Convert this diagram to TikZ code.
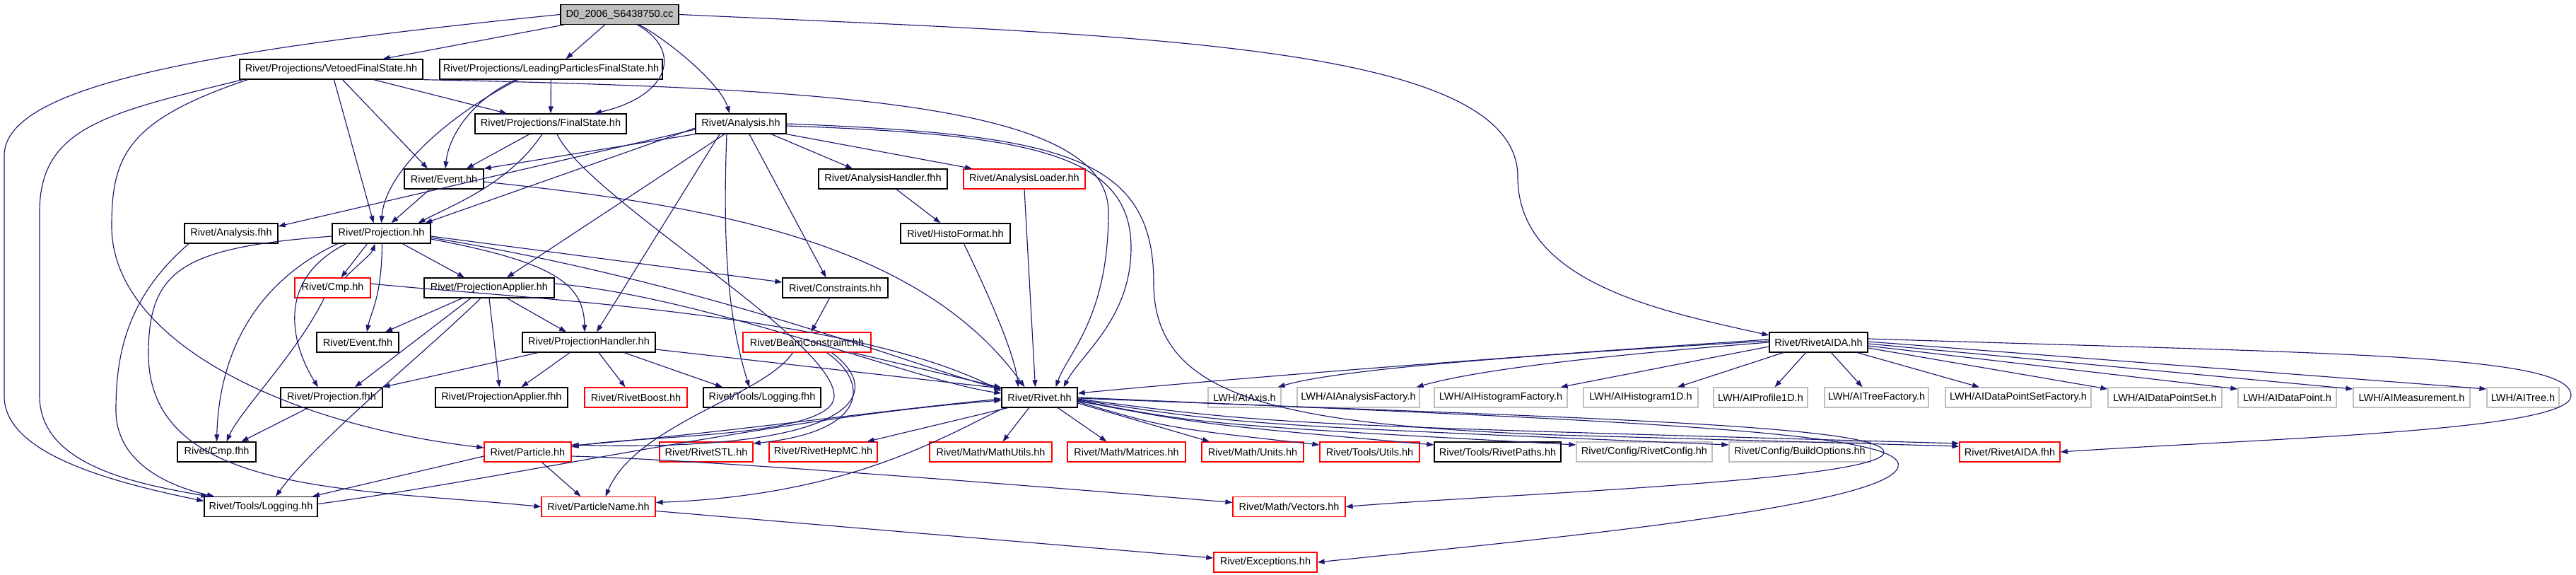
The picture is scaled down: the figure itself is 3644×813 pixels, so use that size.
\documentclass[tikz,border=0pt]{standalone}
\usepackage{fontspec}
\setmainfont{Liberation Sans}
\usepackage{tikz}
\usetikzlibrary{arrows.meta}
\definecolor{edgeblue}{HTML}{191970}
\definecolor{boxred}{HTML}{FF0000}
\definecolor{boxgray}{HTML}{BFBFBF}
\newcommand{\hdrfont}{\fontsize{14.5pt}{16pt}\selectfont}
\tikzstyle{hdr}=[draw=black,line width=1.3pt,minimum height=28pt,inner sep=0pt,font=\hdrfont]
\tikzstyle{hdrred}=[hdr,draw=boxred]
\tikzstyle{hdrgray}=[hdr,draw=boxgray]
\tikzstyle{hdrroot}=[hdr,fill=boxgray]
\tikzstyle{dep}=[draw=edgeblue,line width=1.15pt,-{Triangle[length=10pt,width=7pt]}]

\begin{document}
\begin{tikzpicture}[x=1pt,y=-1pt]
\useasboundingbox (0,0) rectangle (3644,813);
\node[hdrroot, minimum width=167pt] (root) at (876.5,20.5) {D0\_2006\_S6438750.cc};
\node[hdr, minimum width=259pt] (vfs) at (468.5,98) {Rivet/Projections/VetoedFinalState.hh};
\node[hdr, minimum width=315pt] (lpfs) at (779.5,98) {Rivet/Projections/LeadingParticlesFinalState.hh};
\node[hdr, minimum width=214pt] (finalstate) at (779,175) {Rivet/Projections/FinalState.hh};
\node[hdr, minimum width=128pt] (analysis) at (1048,175) {Rivet/Analysis.hh};
\node[hdr, minimum width=112pt] (event) at (628,253) {Rivet/Event.hh};
\node[hdr, minimum width=182pt] (anahandlerfhh) at (1249,253) {Rivet/AnalysisHandler.fhh};
\node[hdrred, minimum width=172pt] (analoader) at (1449,253) {Rivet/AnalysisLoader.hh};
\node[hdr, minimum width=132pt] (analysisfhh) at (327,330) {Rivet/Analysis.fhh};
\node[hdr, minimum width=139pt] (projection) at (539.5,330) {Rivet/Projection.hh};
\node[hdr, minimum width=155pt] (histoformat) at (1351.5,330) {Rivet/HistoFormat.hh};
\node[hdrred, minimum width=107pt] (cmp) at (470.5,407) {Rivet/Cmp.hh};
\node[hdr, minimum width=184pt] (projapplier) at (692,407) {Rivet/ProjectionApplier.hh};
\node[hdr, minimum width=149pt] (constraints) at (1181.5,407) {Rivet/Constraints.hh};
\node[hdr, minimum width=116pt] (eventfhh) at (506,484) {Rivet/Event.fhh};
\node[hdr, minimum width=188pt] (projhandler) at (833,484) {Rivet/ProjectionHandler.hh};
\node[hdrred, minimum width=181pt] (beamconstraint) at (1141.5,484) {Rivet/BeamConstraint.hh};
\node[hdr, minimum width=139pt] (rivetaida) at (2572.5,484) {Rivet/RivetAIDA.hh};
\node[hdr, minimum width=144pt] (projectionfhh) at (469,562) {Rivet/Projection.fhh};
\node[hdr, minimum width=187pt] (projapplierfhh) at (709.5,562) {Rivet/ProjectionApplier.fhh};
\node[hdrred, minimum width=145pt] (rivetboost) at (899.5,562) {Rivet/RivetBoost.hh};
\node[hdr, minimum width=166pt] (loggingfhh) at (1078,562) {Rivet/Tools/Logging.fhh};
\node[hdr, minimum width=107pt] (rivet) at (1470.5,562) {Rivet/Rivet.hh};
\node[hdrgray, minimum width=103pt] (aiaxis) at (1760.5,562) {LWH/AIAxis.h};
\node[hdrgray, minimum width=173pt] (aianalysisfactory) at (1921.5,562) {LWH/AIAnalysisFactory.h};
\node[hdrgray, minimum width=188pt] (aihistogramfactory) at (2123,562) {LWH/AIHistogramFactory.h};
\node[hdrgray, minimum width=162pt] (aihistogram1d) at (2321,562) {LWH/AIHistogram1D.h};
\node[hdrgray, minimum width=133pt] (aiprofile1d) at (2490.5,562) {LWH/AIProfile1D.h};
\node[hdrgray, minimum width=147pt] (aitreefactory) at (2654.5,562) {LWH/AITreeFactory.h};
\node[hdrgray, minimum width=206pt] (aidatapointsetfactory) at (2855,562) {LWH/AIDataPointSetFactory.h};
\node[hdrgray, minimum width=161pt] (aidatapointset) at (3062.5,562) {LWH/AIDataPointSet.h};
\node[hdrgray, minimum width=139pt] (aidatapoint) at (3235.5,562) {LWH/AIDataPoint.h};
\node[hdrgray, minimum width=165pt] (aimeasurement) at (3411.5,562) {LWH/AIMeasurement.h};
\node[hdrgray, minimum width=102pt] (aitree) at (3569,562) {LWH/AITree.h};
\node[hdr, minimum width=111pt] (cmpfhh) at (306.5,639) {Rivet/Cmp.fhh};
\node[hdrred, minimum width=123pt] (particle) at (746.5,639) {Rivet/Particle.hh};
\node[hdrred, minimum width=132pt] (rivetstl) at (999,639) {Rivet/RivetSTL.hh};
\node[hdrred, minimum width=153pt] (rivethepmc) at (1164.5,639) {Rivet/RivetHepMC.hh};
\node[hdrred, minimum width=173pt] (mathutils) at (1401.5,639) {Rivet/Math/MathUtils.hh};
\node[hdrred, minimum width=167pt] (matrices) at (1593.5,639) {Rivet/Math/Matrices.hh};
\node[hdrred, minimum width=144pt] (units) at (1772,639) {Rivet/Math/Units.hh};
\node[hdrred, minimum width=141pt] (utils) at (1937.5,639) {Rivet/Tools/Utils.hh};
\node[hdr, minimum width=179pt] (rivetpaths) at (2118.5,639) {Rivet/Tools/RivetPaths.hh};
\node[hdrgray, minimum width=192pt] (rivetconfig) at (2326,639) {Rivet/Config/RivetConfig.hh};
\node[hdrgray, minimum width=200pt] (buildoptions) at (2546,639) {Rivet/Config/BuildOptions.hh};
\node[hdrred, minimum width=142pt] (rivetaidafhh) at (2843,639) {Rivet/RivetAIDA.fhh};
\node[hdr, minimum width=160pt] (logging) at (369,716.5) {Rivet/Tools/Logging.hh};
\node[hdrred, minimum width=161pt] (particlename) at (846.5,716.5) {Rivet/ParticleName.hh};
\node[hdrred, minimum width=159pt] (vectors) at (1823.5,716.5) {Rivet/Math/Vectors.hh};
\node[hdrred, minimum width=146pt] (exceptions) at (1790,795) {Rivet/Exceptions.hh};
\draw[dep] ([xshift=5pt]root.south west) -- ([xshift=73pt]vfs.north);
\draw[dep] ([xshift=-21pt]root.south) -- ([xshift=21pt]lpfs.north);
\draw[dep] ([xshift=25pt]root.south) .. controls (965,70) and (950,135) .. ([xshift=62pt]finalstate.north);
\draw[dep] ([xshift=28pt]root.south) .. controls (950,60) and (1020,120) .. ([xshift=-16pt]analysis.north);
\draw[dep] (root.west) .. controls (300,70) and (6,120) .. (6,220) -- (6,560) .. controls (6,640) and (150,680) .. ([yshift=8pt]logging.west);
\draw[dep] (root.east) .. controls (1600,50) and (2147,60) .. (2147,250) .. controls (2147,400) and (2350,440) .. ([yshift=10pt]rivetaida.west);
\draw[dep] ([xshift=60pt]vfs.south) -- ([xshift=-62pt]finalstate.north);
\draw[dep] ([xshift=16pt]vfs.south) -- ([xshift=-23pt]event.north);
\draw[dep] ([xshift=4pt]vfs.south) -- ([xshift=-11pt]projection.north);
\draw[dep] ([xshift=5pt]vfs.south west) .. controls (150,160) and (56,180) .. (56,300) -- (56,560) .. controls (56,660) and (200,685) .. ([xshift=6pt]logging.north west);
\draw[dep] ([xshift=12pt]vfs.south west) .. controls (180,170) and (158,220) .. (158,320) .. controls (158,480) and (400,600) .. ([yshift=6pt]particle.west);
\draw[dep] (vfs.south east) .. controls (1200,125) and (1568,150) .. (1568,300) .. controls (1568,450) and (1510,500) .. ([xshift=23pt]rivet.north);
\draw[dep] (lpfs) -- (finalstate);
\draw[dep] ([xshift=-50pt]lpfs.south) .. controls (670,140) and (635,190) .. ([xshift=2pt]event.north);
\draw[dep] ([xshift=-47pt]lpfs.south) .. controls (640,160) and (545,240) .. (projection.north);
\draw[dep] ([xshift=-30pt]finalstate.south) -- ([xshift=32pt]event.north);
\draw[dep] ([xshift=-12pt]finalstate.south) .. controls (720,260) and (640,290) .. ([xshift=52pt]projection.north);
\draw[dep] ([xshift=9pt]finalstate.south) .. controls (830,280) and (1180,480) .. (1180,560) .. controls (1180,620) and (900,615) .. ([yshift=7pt]particle.east);
\draw[dep] ([xshift=-20pt]event.south) -- ([xshift=14pt]projection.north);
\draw[dep] ([yshift=-4pt]event.east) .. controls (1000,290) and (1300,340) .. ([xshift=-21pt]rivet.north);
\draw[dep] ([yshift=-8pt]analysis.west) -- ([yshift=10pt]analysisfhh.east);
\draw[dep] ([yshift=-6pt]analysis.west) -- ([xshift=62pt]projection.north);
\draw[dep] (analysis.south west) -- (event.north east);
\draw[dep] ([xshift=-23pt]analysis.south) -- ([xshift=25pt]projapplier.north);
\draw[dep] ([xshift=-30pt]analysis.south) -- ([xshift=11pt]projhandler.north);
\draw[dep] ([xshift=-20pt]analysis.south) .. controls (1022,350) and (1030,450) .. ([xshift=-18pt]loggingfhh.north);
\draw[dep] ([xshift=12pt]analysis.south) -- ([xshift=-13pt]constraints.north);
\draw[dep] ([xshift=43pt]analysis.south) -- ([xshift=-43pt]anahandlerfhh.north);
\draw[dep] (analysis.south east) -- ([xshift=-74pt]analoader.north);
\draw[dep] ([yshift=-3pt]analysis.east) .. controls (1450,190) and (1600,215) .. (1600,350) .. controls (1600,450) and (1530,500) .. ([xshift=34pt]rivet.north);
\draw[dep] (analysis.east) .. controls (1500,190) and (1632,220) .. (1632,400) .. controls (1632,560) and (1800,600) .. (2200,615) -- ([yshift=8pt]rivetaidafhh.west);
\draw[dep] ([xshift=19pt]anahandlerfhh.south) -- ([xshift=-21pt]histoformat.north);
\draw[dep] ([xshift=12pt]histoformat.south) .. controls (1400,420) and (1435,500) .. ([xshift=-30pt]rivet.north);
\draw[dep] (analoader.south) -- ([xshift=-6pt]rivet.north);
\draw[dep] ([xshift=-20pt]projection.south) -- ([xshift=12pt]cmp.north);
\draw[dep] ([xshift=18pt]cmp.north) .. controls (505,375) and (525,360) .. ([xshift=-9pt]projection.south);
\draw[dep] ([xshift=1pt]projection.south) .. controls (540,420) and (525,440) .. ([xshift=13pt]eventfhh.north);
\draw[dep] ([xshift=30pt]projection.south) -- ([xshift=-35pt]projapplier.north);
\draw[dep] ([yshift=-8pt]projection.east) .. controls (780,370) and (826,400) .. ([xshift=-6pt]projhandler.north);
\draw[dep] ([yshift=-4pt]projection.east) -- ([yshift=8pt]constraints.west);
\draw[dep] ([yshift=-6pt]projection.east) .. controls (1000,400) and (1300,520) .. ([yshift=12pt]rivet.west);
\draw[dep] ([xshift=-50pt]projection.south) .. controls (380,400) and (420,500) .. ([xshift=-19pt]projectionfhh.north);
\draw[dep] ([xshift=-62pt]projection.south) .. controls (360,400) and (310,500) .. (cmpfhh.north);
\draw[dep] ([yshift=-4pt]projection.west) .. controls (260,350) and (210,380) .. (210,500) .. controls (210,700) and (500,690) .. (particlename.west);
\draw[dep] ([xshift=-12pt]cmp.south) .. controls (420,500) and (340,580) .. ([xshift=14pt]cmpfhh.north);
\draw[dep] ([yshift=6pt]cmp.east) .. controls (700,420) and (1200,440) .. ([yshift=9pt]rivet.west);
\draw[dep] ([xshift=-38pt]projapplier.south) -- ([xshift=39pt]eventfhh.north);
\draw[dep] ([xshift=25pt]projapplier.south) -- ([xshift=-32pt]projhandler.north);
\draw[dep] ([xshift=-26pt]projapplier.south) -- ([xshift=33pt]projectionfhh.north);
\draw[dep] (projapplier.south) -- ([xshift=-3pt]projapplierfhh.north);
\draw[dep] ([xshift=-12pt]projapplier.south) .. controls (600,500) and (450,620) .. ([xshift=21pt]logging.north);
\draw[dep] ([yshift=6pt]projapplier.east) .. controls (1000,420) and (1300,540) .. ([yshift=6pt]rivet.west);
\draw[dep] ([xshift=-72pt]projhandler.south) -- (projectionfhh.north east);
\draw[dep] ([xshift=-27pt]projhandler.south) -- ([xshift=28pt]projapplierfhh.north);
\draw[dep] ([xshift=14pt]projhandler.south) -- ([xshift=-15pt]rivetboost.north);
\draw[dep] ([xshift=50pt]projhandler.south) -- ([xshift=-56pt]loggingfhh.north);
\draw[dep] ([yshift=-10pt]projhandler.east) -- ([yshift=13pt]rivet.west);
\draw[dep] ([xshift=-33pt]projectionfhh.south) -- ([xshift=35pt]cmpfhh.north);
\draw[dep] ([xshift=-60pt]analysisfhh.south) .. controls (180,420) and (164,500) .. (164,580) .. controls (164,660) and (250,690) .. ([xshift=-66pt]logging.north);
\draw[dep] ([yshift=-6pt]particle.west) -- ([xshift=73pt]logging.north);
\draw[dep] ([xshift=20pt]particle.south) -- ([xshift=-25pt]particlename.north);
\draw[dep] ([yshift=-6pt]particle.east) .. controls (1000,650) and (1500,690) .. ([yshift=6pt]vectors.west);
\draw[dep] ([yshift=9pt]particle.east) .. controls (1000,615) and (1250,580) .. ([yshift=-2pt]rivet.west);
\draw[dep] ([yshift=4pt]logging.east) .. controls (700,680) and (1100,590) .. ([yshift=-4pt]rivet.west);
\draw[dep] ([yshift=-6pt]particlename.east) -- ([yshift=6pt]exceptions.west);
\draw[dep] ([xshift=-8pt]constraints.south) -- ([xshift=6pt]beamconstraint.north);
\draw[dep] ([xshift=65pt]beamconstraint.south) -- ([yshift=14pt]rivet.west);
\draw[dep] ([xshift=28pt]beamconstraint.south) .. controls (1230,540) and (1230,610) .. ([yshift=12pt]rivetstl.east);
\draw[dep] ([xshift=35pt]beamconstraint.south) .. controls (1260,560) and (1200,640) .. ([yshift=10pt]particle.east);
\draw[dep] ([xshift=-20pt]beamconstraint.south) .. controls (1080,560) and (900,600) .. ([xshift=10pt]particlename.north);
\draw[dep] ([xshift=-45pt]rivet.south) -- ([xshift=62pt]rivethepmc.north);
\draw[dep] ([xshift=-50pt]rivet.south) .. controls (1330,620) and (1200,700) .. ([yshift=6pt]particlename.east);
\draw[dep] ([xshift=-15pt]rivet.south) -- ([xshift=17pt]mathutils.north);
\draw[dep] ([xshift=26pt]rivet.south) -- ([xshift=-28pt]matrices.north);
\draw[dep] ([yshift=-8pt]rivet.east) -- ([xshift=-61pt]units.north);
\draw[dep] ([yshift=-6pt]rivet.east) .. controls (1650,605) .. ([yshift=10pt]utils.west);
\draw[dep] ([yshift=-5pt]rivet.east) .. controls (1700,600) .. ([yshift=10pt]rivetpaths.west);
\draw[dep] ([yshift=-4pt]rivet.east) .. controls (1700,600) .. ([yshift=10pt]rivetconfig.west);
\draw[dep] ([yshift=-3pt]rivet.east) .. controls (1750,600) .. ([yshift=10pt]buildoptions.west);
\draw[dep] ([yshift=-2pt]rivet.east) .. controls (1800,600) .. ([yshift=12pt]rivetaidafhh.west);
\draw[dep] ([yshift=-1pt]rivet.east) .. controls (2200,590) and (2670,600) .. (2665,640) .. controls (2660,680) and (2100,700) .. (vectors.east);
\draw[dep] (rivet.east) .. controls (2300,595) and (2700,610) .. (2685,660) .. controls (2670,720) and (2100,770) .. (exceptions.east);
\draw[dep] ([yshift=4pt]rivetaida.west) .. controls (2200,500) and (1800,530) .. ([yshift=6pt]rivet.east);
\draw[dep] ([yshift=2pt]rivetaida.west) .. controls (2200,500) and (1900,520) .. ([xshift=-5pt]aiaxis.north east);
\draw[dep] (rivetaida.west) .. controls (2300,500) and (2100,520) .. ([xshift=-5pt]aianalysisfactory.north east);
\draw[dep] ([yshift=-6pt]rivetaida.west) -- ([xshift=-10pt]aihistogramfactory.north east);
\draw[dep] ([xshift=-50pt]rivetaida.south) -- ([xshift=52pt]aihistogram1d.north);
\draw[dep] ([xshift=-18pt]rivetaida.south) -- ([xshift=20pt]aiprofile1d.north);
\draw[dep] ([xshift=18pt]rivetaida.south) -- ([xshift=-20pt]aitreefactory.north);
\draw[dep] ([xshift=55pt]rivetaida.south) -- ([xshift=-55pt]aidatapointsetfactory.north);
\draw[dep] ([yshift=-8pt]rivetaida.east) -- ([yshift=12pt]aidatapointset.west);
\draw[dep] ([yshift=-5pt]rivetaida.east) -- ([yshift=12pt]aidatapoint.west);
\draw[dep] ([yshift=-2pt]rivetaida.east) -- ([yshift=12pt]aimeasurement.west);
\draw[dep] ([yshift=1pt]rivetaida.east) -- ([yshift=12pt]aitree.west);
\draw[dep] ([yshift=5pt]rivetaida.east) .. controls (3300,500) and (3640,500) .. (3637,560) .. controls (3634,610) and (3200,620) .. (rivetaidafhh.east);
\end{tikzpicture}
\end{document}
